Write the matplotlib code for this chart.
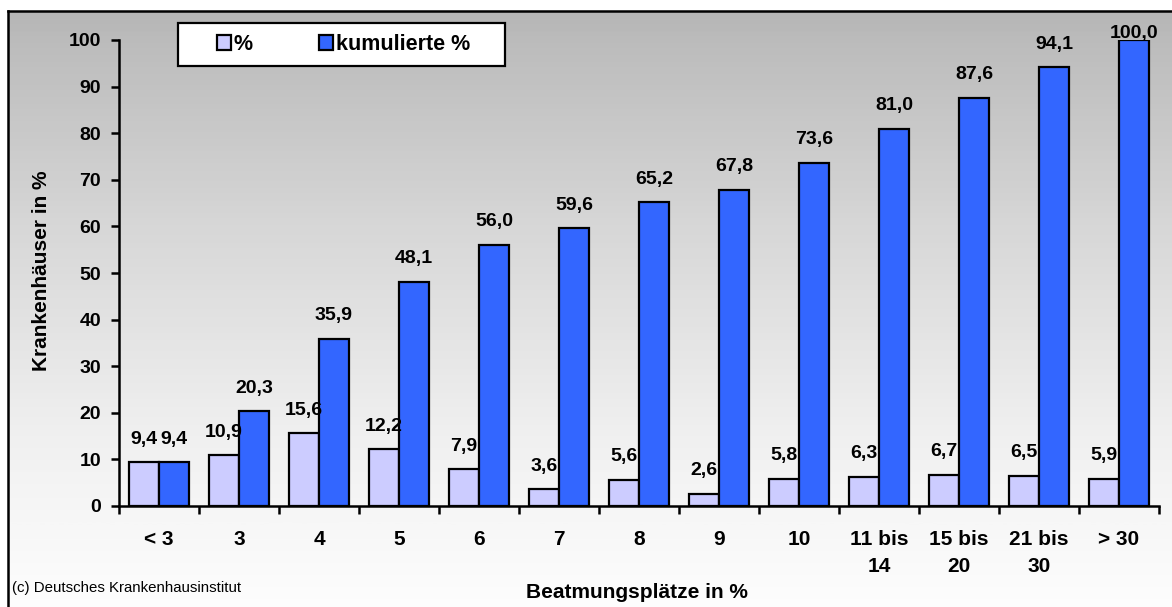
import matplotlib.pyplot as plt
import matplotlib.patches as mpatches
import numpy as np

# data
categories = ['< 3', '3', '4', '5', '6', '7', '8', '9', '10',
              '11 bis\n14', '15 bis\n20', '21 bis\n30', '> 30']
prozent = [9.4, 10.9, 15.6, 12.2, 7.9, 3.6, 5.6, 2.6, 5.8, 6.3, 6.7, 6.5, 5.9]
kumuliert = [9.4, 20.3, 35.9, 48.1, 56.0, 59.6, 65.2, 67.8, 73.6, 81.0, 87.6, 94.1, 100.0]
yticks = [0, 10, 20, 30, 40, 50, 60, 70, 80, 90, 100]

plt.rcParams['font.family'] = ['Liberation Sans', 'DejaVu Sans']

W, H = 1172, 607
fig = plt.figure(figsize=(W / 100, H / 100), dpi=100)
fig.patch.set_facecolor('white')

# gradient frame (gray top -> white bottom)
bg = fig.add_axes([8 / W, -0.01, 1.02, (H - 11) / H + 0.01])
grad = np.linspace(0, 1, 256).reshape(-1, 1)
bg.imshow(grad, aspect='auto', cmap='Greys_r', vmin=-1.55, vmax=1.03,
          extent=[0, 1, 0, 1], origin='upper')
bg.set_xticks([])
bg.set_yticks([])
for s in bg.spines.values():
    s.set_linewidth(1.8)
    s.set_color('black')

ax = fig.add_axes([119 / W, 1 - 506 / H, 1040 / W, (506 - 40) / H])
ax.patch.set_alpha(0)

x = np.arange(len(categories))
bw = 0.375
ax.bar(x - bw / 2, prozent, bw, color='#CCCCFF', edgecolor='black',
       linewidth=1.6, label='%')
ax.bar(x + bw / 2, kumuliert, bw, color='#3366FF', edgecolor='black',
       linewidth=1.6, label='kumulierte %')

for xi, v in zip(x, prozent):
    ax.text(xi - bw / 2, v + 4.0, f'{v:.1f}'.replace('.', ','), ha='center',
            va='baseline', fontsize=14, fontweight='bold', clip_on=False)
for xi, v in zip(x, kumuliert):
    ax.text(xi + bw / 2, v + 4.0 if v < 100 else v + 0.4, f'{v:.1f}'.replace('.', ','),
            ha='center', va='baseline', fontsize=14, fontweight='bold', clip_on=False)

ax.set_xlim(-0.5, len(categories) - 0.5)
ax.set_ylim(0, 100)
ax.set_yticks(yticks)
ax.set_yticklabels([str(t) for t in yticks], fontsize=14, fontweight='bold')
ax.set_xticks(np.arange(len(categories) + 1) - 0.5)
ax.set_xticklabels([])
ax.set_xticks(x, minor=True)
ax.set_xticklabels(categories, minor=True, fontsize=15, fontweight='bold',
                   linespacing=1.55, va='top')
ax.tick_params(axis='x', which='minor', length=0, pad=17)
ax.tick_params(axis='x', which='major', length=6, width=1.8, direction='out')
ax.tick_params(axis='y', length=6, width=1.8, direction='out', pad=7)

for s in ['top', 'right']:
    ax.spines[s].set_visible(False)
for s in ['left', 'bottom']:
    ax.spines[s].set_linewidth(1.8)

fig.text(42 / W, 1 - 271 / H, 'Krankenhäuser in %', ha='center', va='center',
         rotation=90, fontsize=15, fontweight='bold')
fig.text(637 / W, 1 - 592 / H, 'Beatmungsplätze in %', ha='center', va='center',
         fontsize=15, fontweight='bold')
fig.text(12 / W, 1 - 588 / H, '(c) Deutsches Krankenhausinstitut', ha='left',
         va='center', fontsize=10.8)

# legend box
frame = mpatches.Rectangle((178 / W, 1 - 66 / H), (505 - 178) / W, 43 / H,
                           transform=fig.transFigure, facecolor='white',
                           edgecolor='black', linewidth=1.6, zorder=4.5,
                           clip_on=False)
ax.add_artist(frame)
leg = ax.legend(loc='center left', bbox_to_anchor=(217 / W, 1 - 44.5 / H),
                bbox_transform=fig.transFigure, ncol=2, frameon=False,
                prop={'size': 15.5, 'weight': 'bold'}, handlelength=0.65,
                handleheight=0.65, handletextpad=0.12, columnspacing=3.1,
                borderpad=0, borderaxespad=0)
leg.set_zorder(6)

fig.savefig('out.png', dpi=100)
